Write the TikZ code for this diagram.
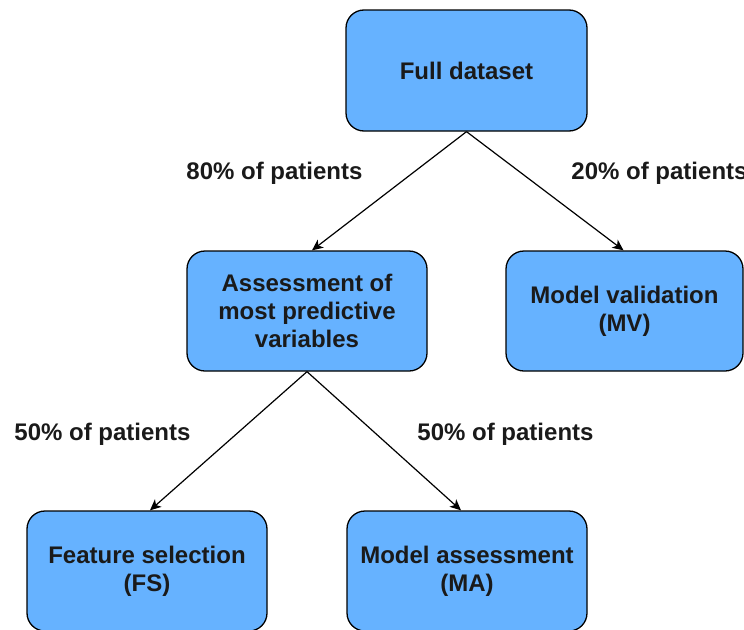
\documentclass[tikz,border=0pt]{standalone}
\usepackage{fontspec}
\setmainfont{Liberation Sans}
\usetikzlibrary{arrows.meta}
\definecolor{boxblue}{RGB}{102,178,255}
\definecolor{txt}{RGB}{26,26,26}
\tikzset{
  boxnode/.style={draw=black, fill=boxblue, line width=1.3pt, rounded corners=18pt,
    minimum width=#1, minimum height=120pt, inner sep=0pt, align=center,
    text=txt, font=\fontsize{24}{27.6}\selectfont\bfseries},
  boxnode/.default=240pt,
  lbl/.style={text=txt, font=\fontsize{24}{27.6}\selectfont\bfseries, inner sep=0pt, anchor=base},
  conn/.style={draw=black, line width=1.2pt, -{Stealth[length=11pt,width=10pt,inset=3pt]}}
}
\begin{document}
\begin{tikzpicture}[x=1pt,y=-1pt]
\useasboundingbox (0,0) rectangle (744,629);
\node[boxnode=241pt, minimum height=121pt] (full) at (466.5,70.5) {Full dataset};
\node[boxnode] (assess) at (307,311) {Assessment of\\most predictive\\variables};
\node[boxnode=237pt] (mv) at (624.5,311) {Model validation\\(MV)};
\node[boxnode] (fs) at (147,571) {Feature selection\\(FS)};
\node[boxnode] (ma) at (467,571) {Model assessment\\(MA)};
\draw[conn] (full.south) -- ([xshift=5pt]assess.north);
\draw[conn] (full.south) -- ([xshift=-1pt]mv.north);
\draw[conn] (assess.south) -- ([xshift=3pt]fs.north);
\draw[conn] (assess.south) -- ([xshift=-6pt]ma.north);
\node[lbl] (l80) at (274.5,179) {80\% of patients};
\node[lbl] (l20) at (659.5,179) {20\% of patients};
\node[lbl] (l50a) at (102.5,440) {50\% of patients};
\node[lbl] (l50b) at (505.5,440) {50\% of patients};
\end{tikzpicture}
\end{document}
